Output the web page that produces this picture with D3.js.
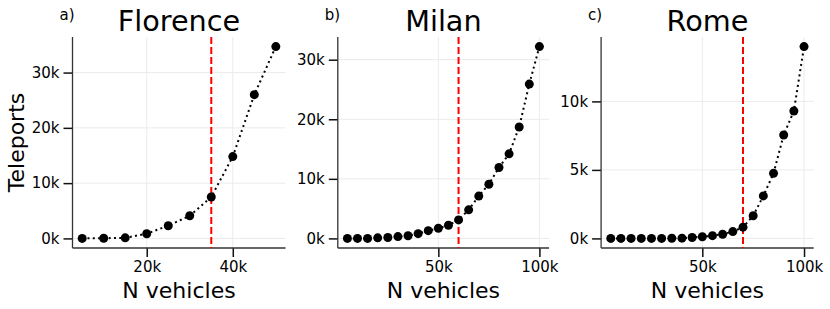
<!DOCTYPE html>
<html>
<head>
<meta charset="utf-8">
<script src="https://cdn.jsdelivr.net/npm/d3@7"></script>
<style>
  body { margin: 0; background: #fff; }
  svg { display: block; font-family: "DejaVu Sans", sans-serif; }
</style>
</head>
<body>
<svg id="chart" width="830" height="309"></svg>
<script>
// vehicles (thousands) and teleports (thousands)
const florenceN = [5, 10, 15, 20, 25, 30, 35, 40, 45, 50]
const florenceT = [0, 0.03, 0.1, 0.85, 2.3, 4.1, 7.5, 14.8, 26.0, 34.7]

const milanN = [5, 10, 15, 20, 25, 30, 35, 40, 45, 50, 55, 60, 65, 70, 75, 80, 85, 90, 95, 100]
const milanT = [0, 0, 0, 0.1, 0.15, 0.3, 0.45, 0.8, 1.3, 1.7, 2.2, 3.1, 4.8, 7.1, 9.1, 11.9, 14.2, 18.7, 25.9, 32.2]

const romeN = [5, 10, 15, 20, 25, 30, 35, 40, 45, 50, 55, 60, 65, 70, 75, 80, 85, 90, 95, 100]
const romeT = [0, 0, 0, 0, 0, 0, 0.01, 0.02, 0.07, 0.12, 0.2, 0.3, 0.5, 0.82, 1.65, 3.1, 4.75, 7.55, 9.3, 14.0]

const titles = ['Florence', 'Milan', 'Rome']
const letters = ['a)', 'b)', 'c)']
const thresholds = [35, 60, 70]
const xTicks = [[20, 40], [50, 100], [50, 100]]
const yTicks = [[0, 10, 20, 30], [0, 10, 20, 30], [0, 5, 10]]

const panels = [
  { n: florenceN, t: florenceT, left: 72.5, right: 285.5 },
  { n: milanN, t: milanT, left: 337.8, right: 549 },
  { n: romeN, t: romeT, left: 601.1, right: 813.7 }
]
const plotTop = 37, plotBottom = 248

const svg = d3.select('#chart')

const pad = (lo, hi) => {
  const m = (hi - lo) * 0.05
  return [lo - m, hi + m]
}

panels.forEach((p, i) => {
  const x = d3.scaleLinear().domain(pad(d3.min(p.n), d3.max(p.n))).range([p.left, p.right])
  const y = d3.scaleLinear().domain(pad(d3.min(p.t), d3.max(p.t))).range([plotBottom, plotTop])
  const g = svg.append('g')

  // grid
  g.selectAll('.gx').data(xTicks[i]).join('line')
    .attr('x1', d => x(d)).attr('x2', d => x(d))
    .attr('y1', plotTop).attr('y2', plotBottom)
    .attr('stroke', '#ebebeb').attr('stroke-width', 1)
  g.selectAll('.gy').data(yTicks[i]).join('line')
    .attr('x1', p.left).attr('x2', p.right)
    .attr('y1', d => y(d)).attr('y2', d => y(d))
    .attr('stroke', '#ebebeb').attr('stroke-width', 1)

  // axes
  const fmt = d => d + 'k'
  const xa = g.append('g').attr('transform', `translate(0,${plotBottom})`)
    .call(d3.axisBottom(x).tickValues(xTicks[i]).tickFormat(fmt).tickSize(9).tickPadding(4))
  const ya = g.append('g').attr('transform', `translate(${p.left},0)`)
    .call(d3.axisLeft(y).tickValues(yTicks[i]).tickFormat(fmt).tickSize(9).tickPadding(4))
  for (const a of [xa, ya]) {
    a.select('.domain').remove()
    a.selectAll('line').attr('stroke', '#111').attr('stroke-width', 1.5)
    a.selectAll('text').attr('font-size', 15).attr('fill', '#000')
      .attr('font-family', '"DejaVu Sans", sans-serif')
  }

  // spines
  g.append('line').attr('x1', p.left).attr('x2', p.left).attr('y1', plotTop).attr('y2', plotBottom)
    .attr('stroke', '#333').attr('stroke-width', 1.3)
  g.append('line').attr('x1', p.left).attr('x2', p.right).attr('y1', plotBottom).attr('y2', plotBottom)
    .attr('stroke', '#333').attr('stroke-width', 1.3)

  // threshold
  g.append('line')
    .attr('x1', x(thresholds[i])).attr('x2', x(thresholds[i]))
    .attr('y1', plotTop).attr('y2', plotBottom)
    .attr('stroke', '#ff0000').attr('stroke-width', 2)
    .attr('stroke-dasharray', '7,3')

  // series
  const pts = p.n.map((v, k) => ({ x: v, y: p.t[k] }))
  const line = d3.line().x(d => x(d.x)).y(d => y(d.y))
  g.append('path').datum(pts)
    .attr('d', line)
    .attr('fill', 'none').attr('stroke', '#000').attr('stroke-width', 2)
    .attr('stroke-dasharray', '2,3.3')
  g.selectAll('.dot').data(pts).join('circle')
    .attr('cx', d => x(d.x)).attr('cy', d => y(d.y)).attr('r', 4.5)
    .attr('fill', '#000')

  // labels
  g.append('text').attr('x', (p.left + p.right) / 2).attr('y', 30.5)
    .attr('text-anchor', 'middle').attr('font-size', 28.7).text(titles[i])
  g.append('text').attr('x', p.left - 13).attr('y', 20)
    .attr('font-size', 15).text(letters[i])
  g.append('text').attr('x', (p.left + p.right) / 2).attr('y', 297.5)
    .attr('text-anchor', 'middle').attr('font-size', 22).text('N vehicles')
})

svg.append('text')
  .attr('transform', `translate(23.5,${(plotTop + plotBottom) / 2}) rotate(-90)`)
  .attr('text-anchor', 'middle').attr('font-size', 22).text('Teleports')
</script>
</body>
</html>
